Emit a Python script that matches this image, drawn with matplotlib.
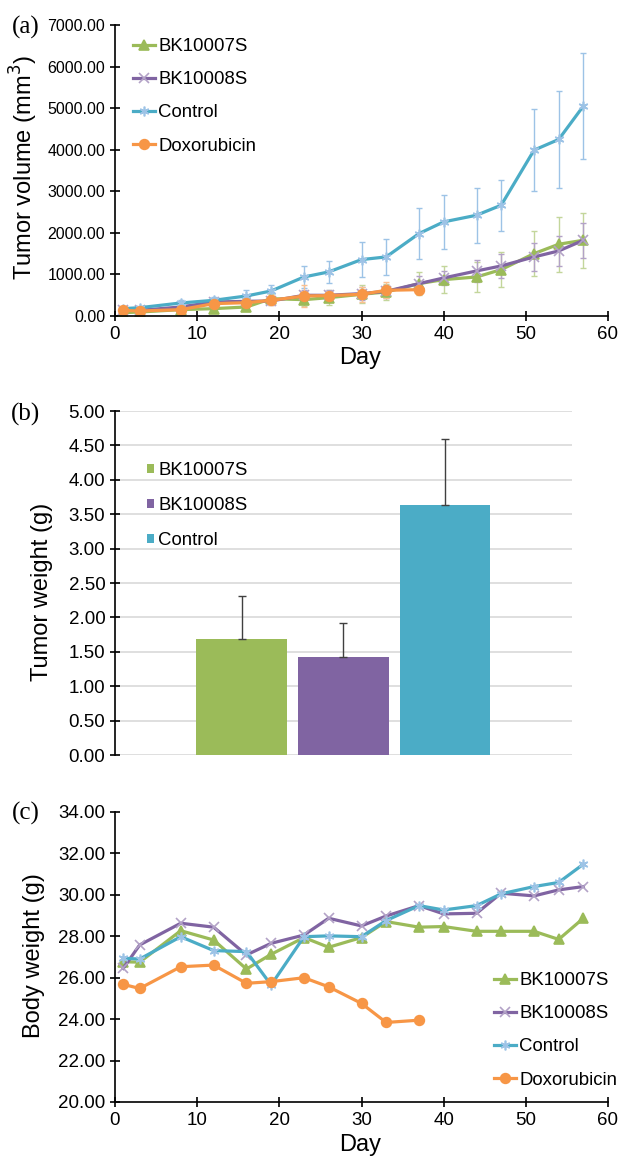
import matplotlib
matplotlib.use('Agg')
import matplotlib.pyplot as plt
from matplotlib.ticker import FormatStrFormatter

plt.rcParams['font.family'] = ['Liberation Sans', 'DejaVu Sans']

# Data
days = [1, 3, 8, 12, 16, 19, 23, 26, 30, 33, 37, 40, 44, 47, 51, 54, 57]
dox_days = days[:11]

vol_bk07 = [80, 96, 153, 177, 217, 417, 393, 441, 522, 578, 779, 875, 939, 1116, 1501, 1726, 1822]
vol_bk07_err = [40, 40, 40, 50, 60, 120, 145, 177, 217, 200, 281, 329, 361, 425, 546, 658, 667]
vol_bk08 = [153, 136, 217, 337, 353, 361, 498, 498, 538, 594, 779, 915, 1084, 1204, 1421, 1565, 1822]
vol_bk08_err = [40, 40, 50, 60, 70, 100, 120, 130, 150, 160, 176, 170, 256, 280, 330, 360, 418]
vol_ctrl = [177, 200, 313, 377, 482, 602, 939, 1060, 1357, 1421, 1983, 2264, 2424, 2665, 3990, 4247, 5050]
vol_ctrl_err = [50, 50, 60, 80, 136, 152, 265, 257, 425, 433, 618, 642, 667, 618, 987, 1172, 1284]
vol_dox = [136, 120, 153, 297, 321, 377, 482, 490, 522, 618, 634]
vol_dox_err = [40, 40, 40, 60, 70, 120, 273, 88, 176, 193, 105]

groups_b = ['BK10007S', 'BK10008S', 'Control']
weight_b = [1.68, 1.43, 3.63]
weight_b_err = [0.63, 0.49, 0.96]

bw_bk07 = [26.77, 26.75, 28.27, 27.82, 26.42, 27.13, 27.94, 27.47, 27.94, 28.71, 28.44, 28.47, 28.24, 28.24, 28.24, 27.85, 28.87]
bw_bk08 = [26.45, 27.58, 28.63, 28.44, 27.10, 27.66, 28.06, 28.87, 28.50, 28.98, 29.48, 29.08, 29.11, 30.08, 29.95, 30.24, 30.40]
bw_ctrl = [26.94, 26.90, 27.98, 27.31, 27.26, 25.65, 27.98, 28.02, 27.98, 28.76, 29.48, 29.27, 29.48, 30.05, 30.40, 30.60, 31.48]
bw_dox = [25.68, 25.48, 26.53, 26.61, 25.73, 25.81, 26.00, 25.56, 24.76, 23.84, 23.95]

green, purple, cyan, orange = '#9BBB59', '#8064A2', '#4BACC6', '#F79646'
lt_green, lt_purple, lt_cyan, lt_orange = '#C3D69B', '#B3A2C7', '#9DC3E6', '#FAC090'
star = (6, 2, 0)

W, H = 619, 1156
fig = plt.figure(figsize=(W / 100, H / 100), dpi=100)


def rect(l, r, t, b):
    return [l / W, 1 - b / H, (r - l) / W, (b - t) / H]


def style_axes(ax):
    ax.spines['top'].set_visible(False)
    ax.spines['right'].set_visible(False)
    ax.tick_params(direction='inout', length=7, width=1.2, colors='black')
    for s in ['left', 'bottom']:
        ax.spines[s].set_linewidth(1.2)


# (a) tumor volume
ax1 = fig.add_axes(rect(115, 608, 25, 316))
series_a = [
    ('BK10007S', days, vol_bk07, vol_bk07_err, green, lt_green, '^', green),
    ('BK10008S', days, vol_bk08, vol_bk08_err, purple, lt_purple, 'x', lt_purple),
    ('Control', days, vol_ctrl, vol_ctrl_err, cyan, lt_cyan, star, lt_cyan),
    ('Doxorubicin', dox_days, vol_dox, vol_dox_err, orange, lt_orange, 'o', orange),
]
for name, x, y, e, c, lc, m, mc in series_a:
    ax1.errorbar(x, y, yerr=e, fmt='none', ecolor=lc, elinewidth=1, capsize=2.5, capthick=1)
for name, x, y, e, c, lc, m, mc in series_a:
    ax1.plot(x, y, color=c, lw=2.3, marker=m, ms=7, mfc=mc, mec=mc, mew=1.2, label=name)
ax1.set_xlim(0, 60)
ax1.set_ylim(0, 7000)
ax1.set_yticks(range(0, 7001, 1000))
ax1.yaxis.set_major_formatter(FormatStrFormatter('%.2f'))
style_axes(ax1)
ax1.tick_params(axis='y', labelsize=11.5)
ax1.tick_params(axis='x', labelsize=13.5)
ax1.legend(loc='upper left', bbox_to_anchor=(133 / W, 1 - 38 / H), bbox_transform=fig.transFigure,
           frameon=False, fontsize=13.4, handlelength=1.2, handletextpad=0.15,
           labelspacing=0.87, borderpad=0, borderaxespad=0)

# (b) tumor weight
ax2 = fig.add_axes(rect(115, 572, 411, 755))
pos = [i - 1 for i in range(len(groups_b))]
colors_b = [green, purple, cyan]
ax2.bar(pos, weight_b, width=0.89, color=colors_b, label=groups_b, zorder=2)
ax2.errorbar(pos, weight_b, yerr=[[0] * 3, weight_b_err], fmt='none', ecolor='#404040',
             elinewidth=1, capsize=3, capthick=1, zorder=3)
ax2.set_xlim(-2.245, 2.249)
ax2.set_ylim(0, 5)
ax2.set_yticks([i * 0.5 for i in range(11)])
ax2.yaxis.set_major_formatter(FormatStrFormatter('%.2f'))
ax2.yaxis.grid(True, color='#D9D9D9', lw=1.2, zorder=0)
ax2.set_axisbelow(True)
for s in ['top', 'right', 'bottom']:
    ax2.spines[s].set_visible(False)
ax2.spines['left'].set_linewidth(1.2)
ax2.tick_params(axis='y', direction='inout', length=7, width=1.2, labelsize=13.5)
ax2.tick_params(axis='x', bottom=False, labelbottom=False)
ax2.legend(loc='upper left', bbox_to_anchor=(147 / W, 1 - 462 / H), bbox_transform=fig.transFigure,
           frameon=False, fontsize=13.4, handlelength=0.4, handleheight=0.4, handletextpad=0.2,
           labelspacing=0.97, borderpad=0, borderaxespad=0)

# (c) body weight
ax3 = fig.add_axes(rect(115, 608, 812, 1102))
series_c = [
    ('BK10007S', days, bw_bk07, green, '^', green),
    ('BK10008S', days, bw_bk08, purple, 'x', lt_purple),
    ('Control', days, bw_ctrl, cyan, star, lt_cyan),
    ('Doxorubicin', dox_days, bw_dox, orange, 'o', orange),
]
for name, x, y, c, m, mc in series_c:
    ax3.plot(x, y, color=c, lw=2.3, marker=m, ms=7, mfc=mc, mec=mc, mew=1.2, label=name)
ax3.set_xlim(0, 60)
ax3.set_ylim(20, 34)
ax3.set_yticks(range(20, 35, 2))
ax3.yaxis.set_major_formatter(FormatStrFormatter('%.2f'))
style_axes(ax3)
ax3.tick_params(axis='both', labelsize=13.5)
ax3.legend(loc='upper left', bbox_to_anchor=(494 / W, 1 - 972 / H), bbox_transform=fig.transFigure,
           frameon=False, fontsize=13.4, handlelength=1.2, handletextpad=0.15,
           labelspacing=0.87, borderpad=0, borderaxespad=0)

# labels
fig.text(24 / W, 1 - 168 / H, 'Tumor volume (mm$^3$)', rotation=90, fontsize=17, ha='center', va='center')
fig.text(42 / W, 1 - 592 / H, 'Tumor weight (g)', rotation=90, fontsize=17, ha='center', va='center')
fig.text(34 / W, 1 - 956 / H, 'Body weight (g)', rotation=90, fontsize=17, ha='center', va='center')
fig.text(360 / W, 1 - 358 / H, 'Day', fontsize=17, ha='center', va='center')
fig.text(360 / W, 1 - 1145 / H, 'Day', fontsize=17, ha='center', va='center')
for lab, yy in [('(a)', 27), ('(b)', 414), ('(c)', 813)]:
    fig.text(26 / W, 1 - yy / H, lab, fontsize=18, ha='center', va='center',
             family=['Liberation Serif', 'DejaVu Serif'])

fig.savefig('out.png', dpi=100)
